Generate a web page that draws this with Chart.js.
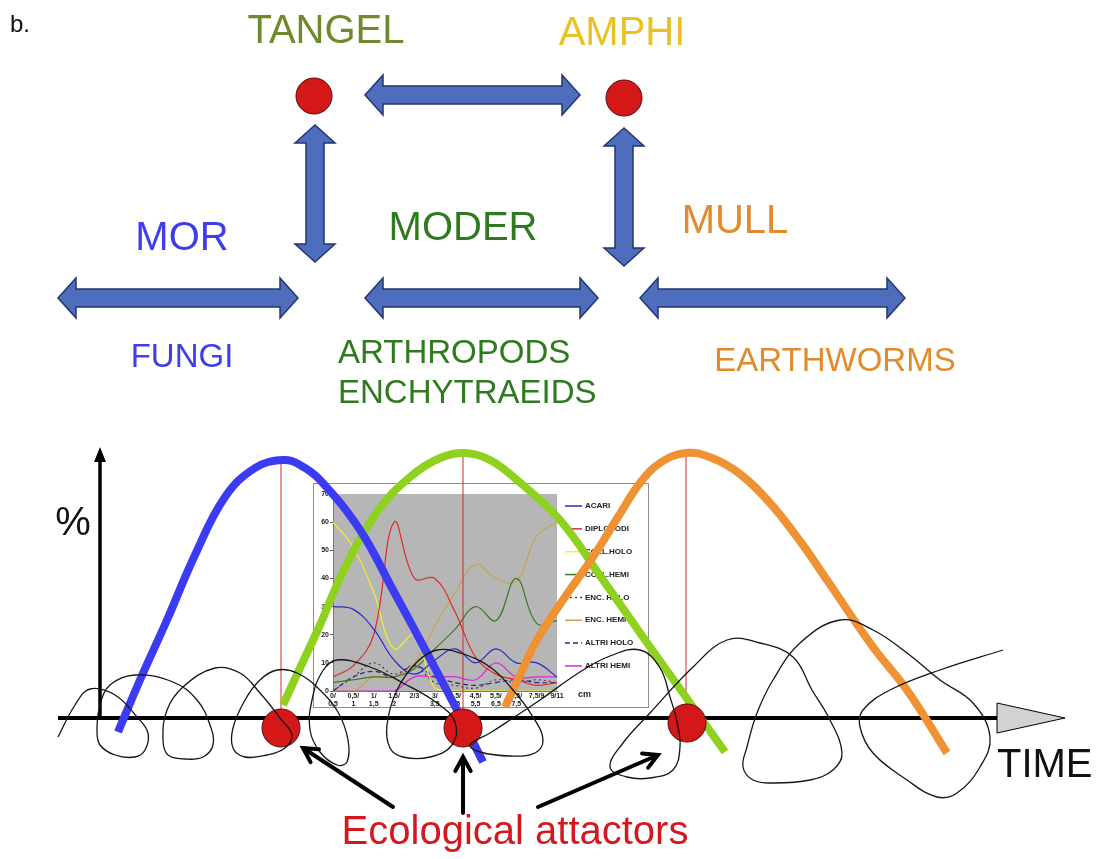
<!DOCTYPE html>
<html>
<head>
<meta charset="utf-8">
<title>Humus systems and ecological attractors</title>
<script src="https://cdn.jsdelivr.net/npm/chart.js@4.4.1/dist/chart.umd.min.js"></script>
<style>
  html, body { margin: 0; background: #fff; }
  #stage { position: relative; width: 1096px; height: 859px; overflow: hidden; }
  #stage canvas { position: absolute; }
  #inset { left: 313px; top: 483px; }
  #main { left: 0; top: 0; }
</style>
</head>
<body>
<div id="stage">
  <canvas id="inset" width="336" height="225"></canvas>
  <canvas id="main" width="1096" height="859"></canvas>
</div>
<script>
// ---- inset: vertical distribution of soil fauna groups (%) ----
const depthLabels = [["0/", "0,5"], ["0,5/", "1"], ["1/", "1,5"], ["1,5/", "2"], ["2/3", ""], ["3/", "3,5"],
  ["3,5/", "4,5"], ["4,5/", "5,5"], ["5,5/", "6,5"], ["6,5/", "7,5"], ["7,5/9", ""], ["9/11", ""]];
const groupNames = ["ACARI", "DIPLOPODI", "COLL.HOLO", "COLL.HEMI", "ENC. HOLO", "ENC. HEMI", "ALTRI HOLO", "ALTRI HEMI"];
const acari     = [30, 29, 22, 11, 6, 11, 15, 10, 15, 10, 10, 5];
const diplopodi = [5, 9, 20, 60, 40, 40, 28, 12, 6, 4, 2, 3];
const collHolo  = [60, 51, 35, 15, 20, 1, 0, 0, 0, 0, 0, 0];
const collHemi  = [3, 4, 5, 5, 8, 15, 22, 30, 25, 40, 24, 25];
const encHolo   = [0, 5, 10, 6, 9, 3, 2, 1, 4, 3, 4, 3];
const encHemi   = [0, 0, 5, 5, 10, 23, 35, 45, 40, 39, 55, 60];
const altriHolo = [0, 5, 7, 5, 9, 5, 3, 2, 3, 4, 3, 3];
const altriHemi = [0, 0, 0, 0, 5, 5, 5, 4, 10, 5, 5, 5];
const percentTicks = [0, 10, 20, 30, 40, 50, 60, 70];

// ---- main diagram (time units / level units) ----
const loopTime = [-4.2, -2.5, -1.0, 1.5, 3.7, 4.8, 4.5, 3.5, 1.5, 0.0, -0.3, 0.0, 1.0, 3.5, 7.3, 9.7, 11.0, 11.3, 10.3, 8.5,
  6.8, 6.3, 6.7, 8.3, 11.5, 14.0, 16.0, 18.0, 19.2, 18.5, 16.7, 14.5, 13.3, 13.3, 14.5, 16.0, 17.7, 19.7, 22.0, 23.8,
  24.8, 24.7, 23.7, 22.0, 21.0, 21.2, 22.2, 23.7, 27.0, 30.3, 33.7, 35.5, 35.2, 33.0, 30.3, 29.0, 28.7, 29.7, 31.7, 33.7,
  36.0, 39.0, 41.3, 43.3, 44.3, 43.5, 41.0, 38.0, 37.0, 39.0, 41.0, 44.0, 48.0, 51.0, 54.0, 56.0, 57.0, 57.7, 58.0, 57.3,
  55.0, 52.7, 51.0, 52.3, 55.0, 59.3, 62.7, 66.0, 69.3, 71.2, 73.0, 74.2, 73.3, 71.0, 67.3, 65.3, 64.3, 64.7, 65.7, 67.3,
  70.0, 74.0, 77.3, 80.7, 84.0, 87.3, 89.0, 88.0, 85.7, 83.7, 80.7, 77.3, 76.0, 76.3, 79.0, 84.0, 90.3];
const loopLevel = [-1.9, 1.3, 2.9, 2.3, 0.1, -1.5, -3.2, -3.9, -3.7, -2.7, -1.2, 1.3, 3.3, 4.3, 3.6, 1.8, -0.7, -2.7, -3.9, -4.1,
  -3.7, -2.2, 0.8, 3.1, 5.0, 4.5, 2.5, 0.0, -1.7, -3.0, -3.7, -3.9, -3.0, -1.0, 1.8, 3.8, 4.8, 4.5, 2.8, 0.6,
  -2.2, -4.4, -4.7, -3.4, -1.2, 1.8, 4.6, 5.8, 5.1, 3.5, 1.5, -0.4, -2.7, -3.9, -3.9, -3.0, -0.7, 2.8, 5.6, 6.8,
  6.5, 5.1, 2.8, 0.1, -2.2, -3.5, -3.8, -3.4, -2.7, -1.5, -0.2, 1.8, 4.6, 6.2, 6.8, 5.0, 2.1, -0.4, -2.9, -5.2,
  -6.0, -5.9, -4.9, -2.5, 0.5, 5.1, 7.8, 7.5, 6.1, 2.8, -0.2, -3.5, -5.2, -6.2, -6.5, -6.2, -4.9, -2.9, 0.5, 3.8,
  7.5, 9.8, 8.8, 6.5, 3.8, 1.5, -1.9, -4.9, -7.5, -7.9, -6.2, -3.5, -0.9, 0.8, 2.8, 4.8, 6.8];

const morTime    = [1.8, 4.0, 6.7, 9.5, 12.5, 15.5, 18.3, 20.0, 22.0, 26.0, 29.3, 32.7, 35.7, 38.3];
const morLevel   = [-1.4, 3.8, 9.8, 16.3, 22.1, 25.0, 25.8, 25.3, 23.8, 18.8, 12.8, 6.5, 0.8, -4.4];
const moderTime  = [18.3, 20.0, 22.0, 24.3, 27.7, 31.0, 34.0, 36.5, 39.0, 41.7, 46.0, 50.3, 55.0, 58.3, 62.5];
const moderLevel = [1.3, 5.0, 9.3, 14.6, 20.6, 24.1, 26.0, 26.5, 25.8, 23.8, 19.8, 13.8, 7.1, 2.5, -3.4];
const mullTime   = [40.5, 42.0, 43.7, 46.5, 49.3, 51.8, 54.0, 56.0, 58.6, 61.2, 64.0, 67.0, 70.0, 72.7, 77.3, 80.7, 84.7];
const mullLevel  = [1.1, 4.3, 7.8, 12.1, 16.1, 20.1, 23.5, 25.5, 26.5, 26.0, 24.4, 21.5, 17.7, 13.8, 7.1, 2.8, -3.5];

const peakTime  = [18.1, 36.3, 58.6];
const peakLevel = [25.8, 26.5, 26.5];
const attractorTime  = [18.1, 36.3, 58.7];
const attractorLevel = [-1.0, -1.0, -0.5];

// top scheme: humus forms and transitions
const nodeX = [21.4, 52.4];
const nodeY = [62.2, 62.0];
const linkFrom = [[26.5, 62.3], [21.5, 59.3], [52.4, 59.0], [-4.2, 42.0], [26.5, 42.0], [54.0, 42.0]];
const linkTo   = [[48.0, 62.3], [21.5, 45.6], [52.4, 45.2], [19.8, 42.0], [49.8, 42.0], [80.5, 42.0]];
const pointerFrom = [[29.3, -8.9], [36.3, -9.5], [43.8, -8.9]];
const pointerTo   = [[20.3, -3.0], [36.3, -3.9], [55.8, -3.7]];
const timeAxis = [-4.2, 89.7, 96.5];
const levelAxisTop = 27.1;

const FONT = '"Liberation Sans", Arial, sans-serif';
const diagramLabels = [
  { text: "b.", x: -9.0, y: 68.6, color: "#111", size: 24, align: "left" },
  { text: "TANGEL", x: 22.6, y: 67.5, color: "#6f8a2c", size: 40, align: "center" },
  { text: "AMPHI", x: 52.2, y: 67.3, color: "#e8c224", size: 40, align: "center" },
  { text: "MOR", x: 8.2, y: 46.8, color: "#3d3ded", size: 40, align: "center" },
  { text: "MODER", x: 36.3, y: 47.8, color: "#2f7a1f", size: 40, align: "center" },
  { text: "MULL", x: 63.5, y: 48.5, color: "#e38b2c", size: 40, align: "center" },
  { text: "FUNGI", x: 8.2, y: 35.1, color: "#3d3ded", size: 33, align: "center" },
  { text: "ARTHROPODS", x: 23.8, y: 35.5, color: "#2f7a1f", size: 33, align: "left" },
  { text: "ENCHYTRAEIDS", x: 23.8, y: 31.5, color: "#2f7a1f", size: 33, align: "left" },
  { text: "EARTHWORMS", x: 73.5, y: 34.7, color: "#e38b2c", size: 33, align: "center" },
  { text: "%", x: -2.7, y: 18.3, color: "#111", size: 40, align: "center" },
  { text: "TIME", x: 89.7, y: -5.9, color: "#111", size: 40, align: "left" },
  { text: "Ecological attactors", x: 41.5, y: -12.6, color: "#d3181e", size: 40, align: "center" }
];

const pts = (xs, ys) => xs.map((v, i) => ({ x: v, y: ys[i] }));

function blockArrow(ctx, x1, y1, x2, y2) {
  const len = Math.hypot(x2 - x1, y2 - y1);
  const ux = (x2 - x1) / len, uy = (y2 - y1) / len, nx = -uy, ny = ux;
  const shaft = 9, head = 20, hl = 18;
  const p = [
    [x1, y1],
    [x1 + ux * hl + nx * head, y1 + uy * hl + ny * head],
    [x1 + ux * hl + nx * shaft, y1 + uy * hl + ny * shaft],
    [x2 - ux * hl + nx * shaft, y2 - uy * hl + ny * shaft],
    [x2 - ux * hl + nx * head, y2 - uy * hl + ny * head],
    [x2, y2],
    [x2 - ux * hl - nx * head, y2 - uy * hl - ny * head],
    [x2 - ux * hl - nx * shaft, y2 - uy * hl - ny * shaft],
    [x1 + ux * hl - nx * shaft, y1 + uy * hl - ny * shaft],
    [x1 + ux * hl - nx * head, y1 + uy * hl - ny * head]
  ];
  ctx.beginPath();
  p.forEach(([a, b], i) => (i ? ctx.lineTo(a, b) : ctx.moveTo(a, b)));
  ctx.closePath();
  ctx.fillStyle = "#4f6dbd";
  ctx.fill();
  ctx.lineWidth = 1.5;
  ctx.strokeStyle = "#23366e";
  ctx.stroke();
}

const diagramPlugin = {
  id: "diagram",
  beforeDatasetsDraw(chart) {
    const { ctx, scales: { x, y } } = chart;
    const X = (v) => x.getPixelForValue(v), Y = (v) => y.getPixelForValue(v);
    ctx.save();
    // transitions between humus forms
    linkFrom.forEach((f, i) => blockArrow(ctx, X(f[0]), Y(f[1]), X(linkTo[i][0]), Y(linkTo[i][1])));

    // level axis
    ctx.strokeStyle = "#000";
    ctx.lineWidth = 3.5;
    ctx.beginPath();
    ctx.moveTo(X(0), Y(0));
    ctx.lineTo(X(0), Y(levelAxisTop) + 10);
    ctx.stroke();
    ctx.beginPath();
    ctx.moveTo(X(0), Y(levelAxisTop));
    ctx.lineTo(X(0) - 6, Y(levelAxisTop) + 15);
    ctx.lineTo(X(0) + 6, Y(levelAxisTop) + 15);
    ctx.closePath();
    ctx.fillStyle = "#000";
    ctx.fill();

    // time axis
    ctx.lineWidth = 4;
    ctx.beginPath();
    ctx.moveTo(X(timeAxis[0]), Y(0));
    ctx.lineTo(X(timeAxis[1]), Y(0));
    ctx.stroke();
    ctx.beginPath();
    ctx.moveTo(X(timeAxis[1]), Y(0) - 15);
    ctx.lineTo(X(timeAxis[2]), Y(0));
    ctx.lineTo(X(timeAxis[1]), Y(0) + 15);
    ctx.closePath();
    ctx.fillStyle = "#d2d2d2";
    ctx.fill();
    ctx.lineWidth = 1;
    ctx.stroke();
    ctx.restore();
  },
  afterDatasetsDraw(chart) {
    const { ctx, scales: { x, y } } = chart;
    const X = (v) => x.getPixelForValue(v), Y = (v) => y.getPixelForValue(v);
    ctx.save();
    // pointers to the attractors
    ctx.strokeStyle = "#000";
    ctx.lineWidth = 4;
    ctx.lineCap = "round";
    pointerFrom.forEach((f, i) => {
      const x1 = X(f[0]), y1 = Y(f[1]), x2 = X(pointerTo[i][0]), y2 = Y(pointerTo[i][1]);
      const ang = Math.atan2(y2 - y1, x2 - x1);
      ctx.beginPath();
      ctx.moveTo(x1, y1);
      ctx.lineTo(x2, y2);
      ctx.moveTo(x2 - 16 * Math.cos(ang - 0.5), y2 - 16 * Math.sin(ang - 0.5));
      ctx.lineTo(x2, y2);
      ctx.lineTo(x2 - 16 * Math.cos(ang + 0.5), y2 - 16 * Math.sin(ang + 0.5));
      ctx.stroke();
    });
    // labels
    ctx.textBaseline = "alphabetic";
    diagramLabels.forEach((l) => {
      ctx.font = `${l.size}px ${FONT}`;
      ctx.fillStyle = l.color;
      ctx.textAlign = l.align;
      ctx.fillText(l.text, X(l.x), Y(l.y));
    });
    ctx.restore();
  }
};

const peakLines = peakTime.map((t, i) => ({
  data: [{ x: t, y: 0 }, { x: t, y: peakLevel[i] }],
  showLine: true, borderColor: "#d42a2a", borderWidth: 1, pointRadius: 0, order: 6
}));

new Chart(document.getElementById("main"), {
  type: "scatter",
  data: {
    datasets: [
      { label: "trajectory", data: pts(loopTime, loopLevel), showLine: true, tension: 0.4,
        borderColor: "#151515", borderWidth: 1.3, pointRadius: 0, order: 0 },
      { label: "attractors", data: pts(attractorTime, attractorLevel), pointRadius: 19,
        backgroundColor: "#d41717", borderColor: "#5a0808", borderWidth: 1, order: 1 },
      { label: "humus forms", data: pts(nodeX, nodeY), pointRadius: 18,
        backgroundColor: "#d41717", borderColor: "#5a0808", borderWidth: 1, order: 1 },
      { label: "MOR", data: pts(morTime, morLevel), showLine: true, tension: 0.4,
        borderColor: "#3b3bf3", borderWidth: 8, pointRadius: 0, order: 3 },
      { label: "MODER", data: pts(moderTime, moderLevel), showLine: true, tension: 0.4,
        borderColor: "#8fd11f", borderWidth: 8, pointRadius: 0, order: 4 },
      { label: "MULL", data: pts(mullTime, mullLevel), showLine: true, tension: 0.4,
        borderColor: "#ee9234", borderWidth: 8, pointRadius: 0, order: 2 },
      ...peakLines
    ]
  },
  options: {
    responsive: false,
    animation: false,
    events: [],
    layout: { padding: 0, autoPadding: false },
    plugins: { legend: { display: false }, tooltip: { enabled: false } },
    scales: {
      x: { type: "linear", min: -10, max: 99.6, display: false },
      y: { type: "linear", min: -14.1, max: 71.8, display: false }
    }
  },
  plugins: [diagramPlugin]
});

// ---- inset chart ----
const groupSeries = [acari, diplopodi, collHolo, collHemi, encHolo, encHemi, altriHolo, altriHemi];
const groupColors = ["#2a2ac8", "#e02a2a", "#f2f020", "#3c7a22", "#5a2c7c", "#c9a254", "#2a2a82", "#e024e0"];
const groupDash = [[], [], [], [], [2, 3], [], [5, 3], []];

const insetFrame = {
  id: "insetFrame",
  beforeDraw(chart) {
    const { ctx, chartArea: a, width, height } = chart;
    ctx.save();
    ctx.fillStyle = "#fff";
    ctx.fillRect(0, 0, width, height);
    ctx.strokeStyle = "#8e8e8e";
    ctx.lineWidth = 1;
    ctx.strokeRect(0.5, 0.5, width - 1, height - 1);
    ctx.fillStyle = "#b6b6b6";
    ctx.fillRect(a.left, a.top, a.right - a.left, a.bottom - a.top);
    ctx.restore();
  },
  afterDraw(chart) {
    const { ctx, chartArea: a } = chart;
    ctx.save();
    ctx.font = `bold 8px ${FONT}`;
    ctx.textBaseline = "middle";
    ctx.textAlign = "left";
    chart.data.datasets.forEach((ds, i) => {
      const cy = a.top + 12 + i * 22.85;
      ctx.strokeStyle = ds.borderColor;
      ctx.lineWidth = 1.5;
      ctx.setLineDash(ds.borderDash || []);
      ctx.beginPath();
      ctx.moveTo(a.right + 8, cy);
      ctx.lineTo(a.right + 25, cy);
      ctx.stroke();
      ctx.setLineDash([]);
      ctx.fillStyle = "#222";
      ctx.fillText(ds.label, a.right + 28, cy);
    });
    ctx.font = `bold 9px ${FONT}`;
    ctx.fillText("cm", a.right + 21, a.bottom + 4);
    ctx.restore();
  }
};

new Chart(document.getElementById("inset"), {
  type: "line",
  data: {
    labels: depthLabels,
    datasets: groupSeries.map((s, i) => ({
      label: groupNames[i], data: s, borderColor: groupColors[i], borderDash: groupDash[i],
      borderWidth: 1.2, tension: 0.4, pointRadius: 0, fill: false
    }))
  },
  options: {
    responsive: false,
    animation: false,
    events: [],
    layout: { padding: { left: 0, top: 11, right: 92, bottom: 0 }, autoPadding: false },
    plugins: { legend: { display: false }, tooltip: { enabled: false } },
    scales: {
      x: {
        offset: false,
        grid: { drawOnChartArea: false, tickLength: 1, color: "#555" },
        border: { color: "#777" },
        ticks: { autoSkip: false, maxRotation: 0, padding: 0, color: "#222",
          font: { size: 7, weight: "bold", family: FONT, lineHeight: 1.15 } },
        afterFit: (s) => { s.height = 17; }
      },
      y: {
        min: 0, max: 70,
        afterBuildTicks: (s) => { s.ticks = percentTicks.map((v) => ({ value: v })); },
        grid: { drawOnChartArea: false, tickLength: 3, color: "#555" },
        border: { color: "#777" },
        ticks: { padding: 1, color: "#222", font: { size: 7, weight: "bold", family: FONT } },
        afterFit: (s) => { s.width = 20; }
      }
    }
  },
  plugins: [insetFrame]
});
</script>
</body>
</html>
